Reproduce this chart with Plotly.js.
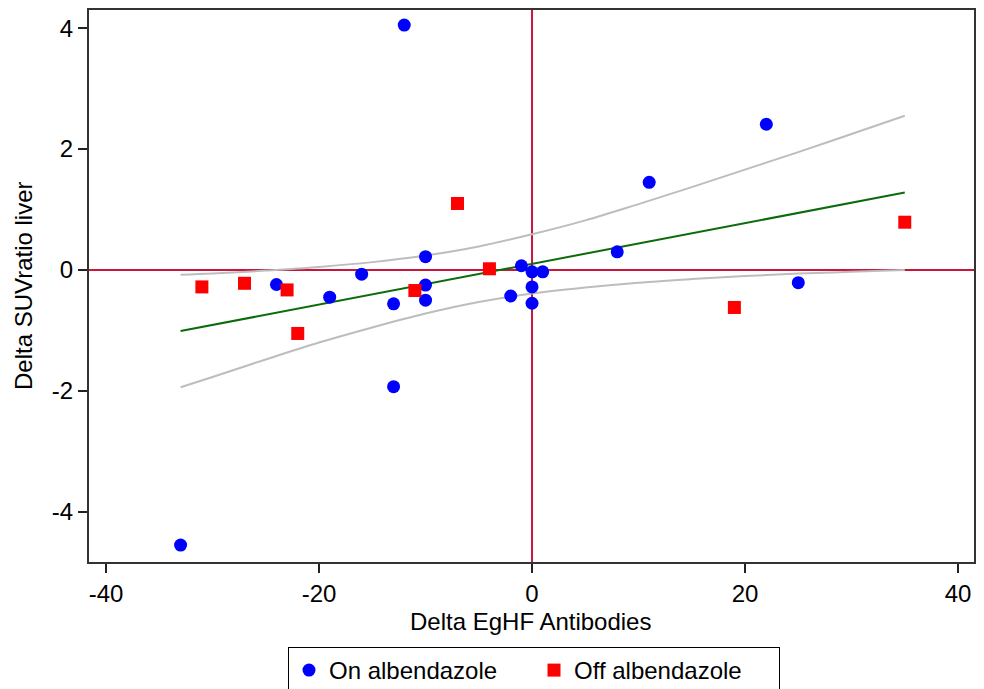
<!DOCTYPE html>
<html>
<head>
<meta charset="utf-8">
<script src="https://cdn.plot.ly/plotly-3.0.1.min.js"></script>
<style>
  html, body { margin: 0; padding: 0; background: #fff; }
  #chart { width: 984px; height: 689px; }
</style>
</head>
<body>
<div id="chart"></div>
<script>
// On albendazole (blue circles)
const onX = [-33, -12, 22, 11, 8, 25, -24, -16, -19, -10, -10, -10, -13, -13, -2, 0, -1, 0, 1, 0];
const onY = [-4.55, 4.05, 2.41, 1.45, 0.30, -0.21, -0.24, -0.07, -0.45, 0.22, -0.25, -0.50, -0.56, -1.93, -0.43, -0.55, 0.07, -0.03, -0.03, -0.28];

// Off albendazole (red squares)
const offX = [-31, -27, -23, -22, -11, -7, -4, 19, 35];
const offY = [-0.28, -0.22, -0.33, -1.05, -0.34, 1.10, 0.02, -0.62, 0.79];

// Fitted line
const fitX = [-33, 35];
const fitY = [-1.01, 1.28];

// Confidence band curves
const ciX = [-33, -30, -25, -20, -15, -10, -5, 0, 5, 10, 15, 20, 25, 30, 35];
const ciUpper = [-0.08, -0.06, -0.01, 0.05, 0.13, 0.24, 0.39, 0.59, 0.82, 1.09, 1.37, 1.66, 1.95, 2.25, 2.55];
const ciLower = [-1.94, -1.77, -1.48, -1.20, -0.95, -0.72, -0.53, -0.39, -0.29, -0.21, -0.15, -0.10, -0.06, -0.03, 0.00];

const xTicks = [-40, -20, 0, 20, 40];
const yTicks = [-4, -2, 0, 2, 4];

const refColor = '#C8163C';
const FS = 24;

const traces = [
  { x: ciX, y: ciUpper, mode: 'lines', line: { color: '#BDBDBD', width: 2, shape: 'spline' }, showlegend: false, hoverinfo: 'skip' },
  { x: ciX, y: ciLower, mode: 'lines', line: { color: '#BDBDBD', width: 2, shape: 'spline' }, showlegend: false, hoverinfo: 'skip' },
  { x: fitX, y: fitY, mode: 'lines', line: { color: '#0B6B0B', width: 2 }, showlegend: false, hoverinfo: 'skip' },
  { x: onX, y: onY, mode: 'markers', name: 'On albendazole',
    marker: { color: '#0000FF', size: 13, symbol: 'circle' } },
  { x: offX, y: offY, mode: 'markers', name: 'Off albendazole',
    marker: { color: '#FF0000', size: 13, symbol: 'square' } }
];

const layout = {
  width: 984, height: 689,
  margin: { l: 89, r: 10, t: 10, b: 127, autoexpand: false },
  paper_bgcolor: '#fff', plot_bgcolor: '#fff',
  font: { family: 'Liberation Sans, Arial, sans-serif', color: '#000', size: FS },
  xaxis: {
    range: [-41.6, 41.5], tickvals: xTicks, ticktext: xTicks.map(String),
    showgrid: false, zeroline: false, showline: true, mirror: true,
    linecolor: '#333', linewidth: 2, ticks: 'outside', ticklen: 9, tickwidth: 2, tickcolor: '#222',
    tickfont: { size: FS }, automargin: false
  },
  yaxis: {
    range: [-4.83, 4.30], tickvals: yTicks, ticktext: yTicks.map(String),
    showgrid: false, zeroline: false, showline: true, mirror: true,
    linecolor: '#333', linewidth: 2, ticks: 'outside', ticklen: 9, tickwidth: 2, tickcolor: '#222',
    tickfont: { size: FS }, automargin: false
  },
  shapes: [
    { type: 'line', xref: 'x', yref: 'paper', x0: 0, x1: 0, y0: 0, y1: 1, line: { color: refColor, width: 2 }, layer: 'below' },
    { type: 'line', xref: 'paper', yref: 'y', x0: 0, x1: 1, y0: 0, y1: 0, line: { color: refColor, width: 2 }, layer: 'below' }
  ],
  annotations: [
    { text: 'Delta EgHF Antibodies', xref: 'paper', yref: 'paper', x: (530 - 89) / 885, y: (562 - 621) / 552,
      xanchor: 'center', yanchor: 'middle', showarrow: false, font: { size: FS } },
    { text: 'Delta SUVratio liver', xref: 'paper', yref: 'paper', x: (23 - 89) / 885, y: (562 - 286) / 552,
      xanchor: 'center', yanchor: 'middle', showarrow: false, textangle: -90, font: { size: FS } }
  ],
  legend: {
    orientation: 'h', x: (288 - 89) / 885, y: (562 - 647) / 552, xanchor: 'left', yanchor: 'top',
    bordercolor: '#000', borderwidth: 1, bgcolor: '#fff', font: { size: FS },
    entrywidth: 200, entrywidthmode: 'pixels'
  },
  showlegend: true
};

Plotly.newPlot('chart', traces, layout, { displayModeBar: false, staticPlot: true });
</script>
</body>
</html>
